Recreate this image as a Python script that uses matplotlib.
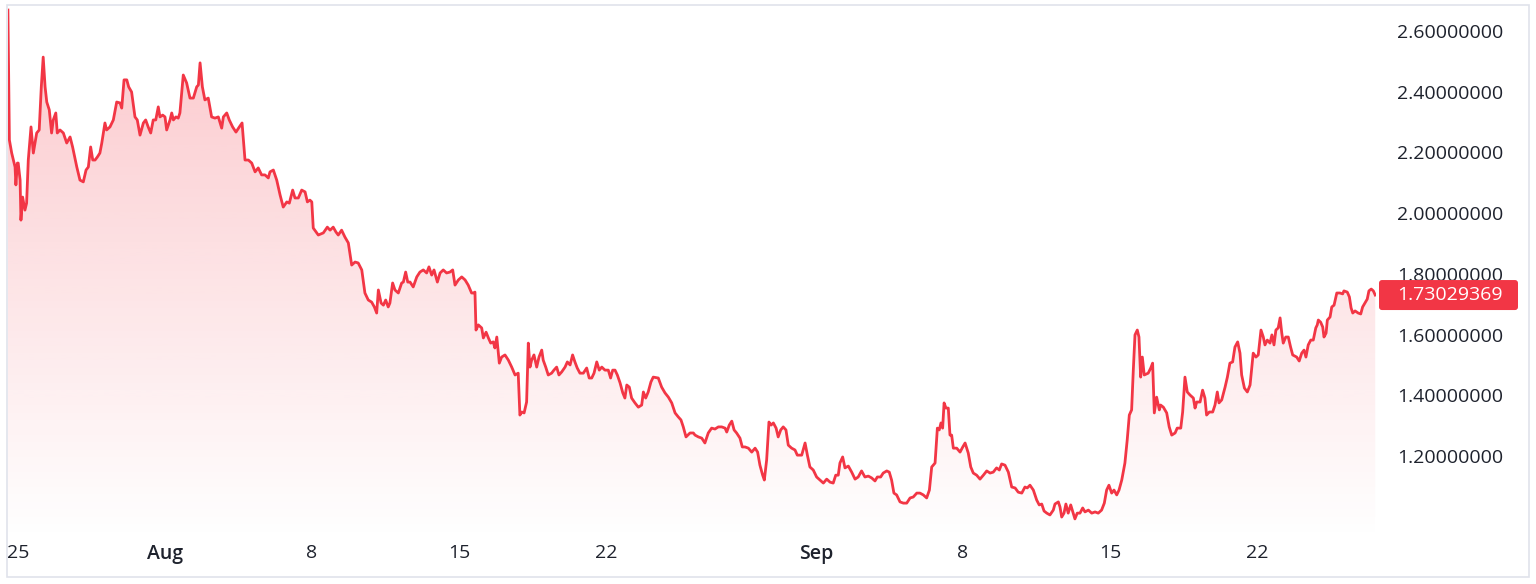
import numpy as np
import matplotlib
matplotlib.use("Agg")
import matplotlib.pyplot as plt
from matplotlib.patches import Polygon, FancyBboxPatch, Rectangle
from matplotlib.transforms import IdentityTransform

# ---- data: days since Jul 25 00:00, price ----
days = [
-0.48,-0.41,-0.30,-0.14,-0.10,-0.03,0.01,0.10,0.14,0.22,0.33,0.41,0.49,0.62,0.73,0.89,1.01,1.11,1.20,1.29,
1.37,1.49,1.60,1.68,1.80,1.87,2.00,2.16,2.32,2.48,2.60,2.80,2.95,3.11,3.24,3.35,3.46,3.56,3.67,3.78,
3.90,3.99,4.14,4.22,4.38,4.54,4.70,4.86,4.94,5.05,5.18,5.27,5.41,5.57,5.68,5.81,5.97,6.08,6.20,6.32,
6.44,6.56,6.68,6.76,6.89,7.00,7.08,7.24,7.32,7.40,7.52,7.63,7.71,7.87,8.03,8.19,8.35,8.51,8.59,8.67,
8.78,8.90,9.06,9.22,9.38,9.54,9.70,9.78,9.94,10.06,10.22,10.38,10.54,10.67,10.81,10.97,11.13,11.29,11.44,11.60,
11.76,11.92,12.00,12.16,12.32,12.48,12.63,12.80,12.92,13.08,13.19,13.35,13.51,13.67,13.78,13.90,13.99,14.06,14.30,14.54,
14.73,14.86,15.01,15.14,15.25,15.41,15.57,15.73,15.89,16.05,16.20,16.37,16.52,16.68,16.84,16.97,17.08,17.16,17.29,17.40,
17.51,17.63,17.71,17.84,17.95,18.11,18.27,18.35,18.46,18.56,18.67,18.82,18.99,19.14,19.30,19.46,19.57,19.70,19.81,19.97,
20.10,20.25,20.41,20.57,20.70,20.81,20.97,21.13,21.29,21.44,21.60,21.68,21.76,21.81,21.92,22.08,22.16,22.29,22.40,22.51,
22.63,22.71,22.80,22.92,23.03,23.19,23.35,23.51,23.67,23.82,23.90,23.99,24.10,24.22,24.30,24.38,24.46,24.57,24.70,24.81,
24.94,25.01,25.13,25.25,25.41,25.52,25.65,25.76,25.89,26.05,26.16,26.29,26.41,26.52,26.63,26.76,26.92,27.08,27.20,27.32,
27.43,27.56,27.68,27.80,27.95,28.11,28.22,28.32,28.43,28.54,28.67,28.80,28.90,28.99,29.11,29.22,29.38,29.54,29.70,29.78,
29.89,30.01,30.14,30.25,30.49,30.65,30.81,30.97,31.13,31.29,31.44,31.57,31.68,31.81,32.00,32.16,32.24,32.40,32.56,32.71,
32.87,33.03,33.19,33.35,33.51,33.67,33.75,33.87,33.99,34.10,34.22,34.38,34.49,34.62,34.78,34.94,35.10,35.22,35.33,35.46,
35.54,35.65,35.76,35.86,35.97,36.10,36.20,36.32,36.44,36.57,36.68,36.84,37.00,37.11,37.32,37.48,37.59,37.71,37.87,38.03,
38.19,38.35,38.51,38.67,38.82,38.94,39.06,39.14,39.27,39.38,39.54,39.70,39.86,40.01,40.17,40.33,40.49,40.65,40.81,40.92,
41.08,41.20,41.37,41.49,41.60,41.71,41.84,42.00,42.16,42.32,42.48,42.63,42.80,42.95,43.11,43.27,43.40,43.51,43.67,43.78,
43.87,43.95,44.03,44.10,44.19,44.30,44.38,44.46,44.54,44.70,44.86,44.99,45.10,45.25,45.37,45.49,45.65,45.81,45.97,46.13,
46.29,46.44,46.60,46.73,46.84,47.00,47.16,47.32,47.48,47.63,47.80,47.95,48.06,48.19,48.35,48.51,48.63,48.75,48.86,48.99,
49.14,49.30,49.38,49.54,49.62,49.70,49.81,49.90,50.01,50.13,50.25,50.33,50.44,50.57,50.70,50.81,50.97,51.13,51.29,51.44,
51.60,51.73,51.84,51.95,52.08,52.19,52.32,52.43,52.56,52.71,52.82,52.92,53.03,53.11,53.19,53.30,53.38,53.46,53.54,53.63,
53.82,53.94,54.03,54.11,54.22,54.35,54.41,54.54,54.70,54.82,54.94,55.10,55.20,55.37,55.46,55.57,55.68,55.81,55.97,56.05,
56.13,56.29,56.41,56.52,56.60,56.73,56.89,57.00,57.11,57.19,57.32,57.48,57.59,57.71,57.84,57.95,58.08,58.19,58.27,58.40,
58.54,58.67,58.82,58.95,59.06,59.19,59.30,59.38,59.49,59.62,59.71,59.81,59.90,60.01,60.10,60.18,60.25,60.37,60.49,60.60,
60.70,60.89,61.01,61.13,61.24,61.33,61.44,61.56,61.68,61.80,61.87,61.92,62.03,62.13,62.19,62.29,62.35,62.48,62.56,62.67,
62.80,62.95,63.08,63.14,63.30,63.40,63.48,63.56,63.67,63.82,63.94,64.03,64.14,64.25,64.33,64.44,64.54,64.63]

prices = [
2.669,2.241,2.198,2.152,2.093,2.165,2.165,2.109,1.977,2.053,2.010,2.033,2.175,2.284,2.198,2.264,2.274,2.416,2.514,2.416,
2.366,2.340,2.264,2.307,2.330,2.264,2.274,2.264,2.231,2.251,2.218,2.152,2.109,2.103,2.142,2.152,2.218,2.175,2.175,2.185,
2.198,2.231,2.297,2.274,2.284,2.307,2.366,2.363,2.346,2.439,2.439,2.416,2.399,2.317,2.307,2.257,2.297,2.307,2.284,2.264,
2.307,2.307,2.350,2.317,2.323,2.317,2.274,2.307,2.330,2.307,2.317,2.313,2.330,2.455,2.429,2.379,2.379,2.416,2.422,2.495,
2.416,2.373,2.379,2.317,2.313,2.317,2.280,2.317,2.330,2.307,2.284,2.267,2.284,2.297,2.175,2.175,2.165,2.136,2.149,2.126,
2.126,2.116,2.136,2.142,2.109,2.060,2.020,2.037,2.033,2.076,2.050,2.050,2.076,2.070,2.037,2.043,2.037,1.951,1.928,1.935,
1.954,1.944,1.954,1.938,1.928,1.944,1.921,1.902,1.829,1.839,1.836,1.813,1.737,1.714,1.707,1.691,1.671,1.747,1.704,1.697,
1.714,1.691,1.704,1.770,1.747,1.737,1.770,1.773,1.806,1.773,1.773,1.757,1.790,1.806,1.813,1.803,1.823,1.796,1.813,1.773,
1.803,1.813,1.803,1.806,1.813,1.763,1.780,1.790,1.780,1.763,1.737,1.737,1.740,1.615,1.632,1.622,1.589,1.608,1.589,1.572,
1.576,1.556,1.592,1.506,1.526,1.533,1.516,1.493,1.467,1.473,1.335,1.345,1.342,1.378,1.572,1.493,1.516,1.533,1.493,1.526,
1.549,1.516,1.493,1.467,1.473,1.483,1.493,1.467,1.477,1.493,1.510,1.500,1.533,1.510,1.490,1.473,1.473,1.490,1.457,1.457,
1.473,1.510,1.483,1.493,1.483,1.483,1.457,1.483,1.483,1.467,1.441,1.408,1.391,1.434,1.427,1.391,1.375,1.361,1.368,1.411,
1.391,1.411,1.444,1.460,1.457,1.427,1.408,1.394,1.375,1.342,1.329,1.319,1.296,1.263,1.276,1.276,1.269,1.263,1.259,1.243,
1.276,1.292,1.289,1.296,1.296,1.292,1.279,1.302,1.315,1.286,1.276,1.259,1.230,1.230,1.226,1.213,1.226,1.213,1.170,1.137,
1.121,1.187,1.312,1.302,1.309,1.292,1.263,1.286,1.296,1.286,1.236,1.226,1.220,1.203,1.203,1.243,1.203,1.164,1.154,1.131,
1.121,1.111,1.124,1.114,1.111,1.137,1.137,1.177,1.197,1.161,1.167,1.147,1.124,1.131,1.151,1.131,1.134,1.128,1.118,1.131,
1.131,1.144,1.151,1.147,1.121,1.078,1.072,1.049,1.045,1.045,1.062,1.065,1.078,1.078,1.072,1.062,1.088,1.164,1.177,1.292,
1.286,1.309,1.292,1.375,1.358,1.358,1.269,1.269,1.226,1.226,1.213,1.230,1.243,1.210,1.164,1.144,1.137,1.124,1.137,1.151,
1.144,1.147,1.161,1.154,1.174,1.170,1.147,1.098,1.095,1.081,1.078,1.098,1.095,1.104,1.088,1.055,1.039,1.042,1.019,1.012,
1.006,1.022,1.042,1.049,1.032,0.999,1.012,1.042,1.012,1.039,1.012,0.993,1.012,1.012,1.029,1.016,1.022,1.012,1.016,1.012,
1.022,1.045,1.088,1.104,1.078,1.088,1.072,1.088,1.121,1.177,1.253,1.335,1.352,1.483,1.599,1.615,1.592,1.460,1.526,1.467,
1.473,1.490,1.506,1.342,1.394,1.352,1.368,1.361,1.342,1.296,1.269,1.276,1.292,1.292,1.345,1.460,1.411,1.401,1.391,1.358,
1.378,1.378,1.417,1.391,1.335,1.345,1.345,1.368,1.411,1.375,1.385,1.427,1.460,1.506,1.510,1.559,1.576,1.539,1.467,1.424,
1.411,1.434,1.539,1.526,1.533,1.615,1.592,1.566,1.582,1.572,1.599,1.566,1.615,1.622,1.655,1.605,1.572,1.592,1.592,1.559,
1.533,1.526,1.513,1.539,1.549,1.526,1.566,1.582,1.582,1.622,1.632,1.648,1.641,1.625,1.592,1.605,1.648,1.658,1.691,1.697,
1.737,1.737,1.734,1.744,1.740,1.724,1.688,1.671,1.678,1.671,1.668,1.691,1.704,1.717,1.744,1.750,1.744,1.73029369]

tick_days = [0, 7, 14, 21, 28, 38, 45, 52, 59]
tick_labels = ["25", "Aug", "8", "15", "22", "Sep", "8", "15", "22"]
month_labels = {"Aug", "Sep"}
price_ticks = [1.2, 1.4, 1.6, 1.8, 2.0, 2.2, 2.4, 2.6]
last_label = "1.73029369"

LINE = "#F23645"
TEXT = "#1e222d"
FONT = ["Open Sans", "DejaVu Sans"]

W, H = 1536, 584
fig = plt.figure(figsize=(W / 100, H / 100), dpi=100)
fig.patch.set_facecolor("white")

# outer frame
fig.add_artist(Rectangle((7 / W, 1 - 577 / H), (1529 - 7) / W, (577 - 5) / H,
                         transform=fig.transFigure, fill=False,
                         edgecolor="#e0e3eb", lw=1.2))

ax = fig.add_axes([8 / W, 1 - 540 / H, (1376 - 8) / W, (540 - 7) / H])
ymin, ymax = 0.9235, 2.679
xmin, xmax = -0.476, 64.667
ax.set_xlim(xmin, xmax)
ax.set_ylim(ymin, ymax)
for s in ax.spines.values():
    s.set_visible(False)
ax.set_facecolor("none")

x = np.array(days)
y = np.array(prices)

# gradient fill under line
verts = [(x[0], ymin)] + list(zip(x, y)) + [(x[-1], ymin)]
clip = Polygon(verts, closed=True, facecolor="none", edgecolor="none")
ax.add_patch(clip)
grad = np.zeros((256, 1, 4))
grad[..., 0] = 242 / 255
grad[..., 1] = 54 / 255
grad[..., 2] = 69 / 255
grad[..., 3] = np.linspace(0.28, 0.0, 256)[:, None]
im = ax.imshow(grad, extent=[xmin, xmax, ymin, ymax], aspect="auto",
               origin="upper", zorder=1, interpolation="bilinear")
im.set_clip_path(clip)

ax.plot(x, y, color=LINE, lw=2.0, zorder=3, solid_joinstyle="round")

# axes ticks
ax.set_xticks(tick_days)
ax.set_xticklabels(tick_labels, fontsize=14, color=TEXT, family=FONT)
for lab in ax.get_xticklabels():
    if lab.get_text() in month_labels:
        lab.set_fontweight("semibold")
ax.tick_params(axis="x", length=0, pad=3)
ax.yaxis.tick_right()
ax.set_yticks(price_ticks)
ax.set_yticklabels([f"{v:.8f}" for v in price_ticks], fontsize=14,
                   color=TEXT, family=FONT)
ax.tick_params(axis="y", length=0, pad=15)

# last price label
fig.canvas.draw()
ydisp = ax.transData.transform((0, prices[-1]))[1]
xr = ax.transAxes.transform((1, 0))[0]
box = FancyBboxPatch((xr + 3, ydisp - 15), 139, 30,
                     boxstyle="round,pad=0,rounding_size=3",
                     transform=IdentityTransform(), facecolor=LINE,
                     edgecolor="none", zorder=10)
fig.add_artist(box)
fig.text((xr + 21) / W, ydisp / H, last_label, color="white", fontsize=14,
         family=FONT, fontweight="medium", va="center", ha="left", zorder=11)

fig.savefig("out.png", dpi=100, facecolor="white")
